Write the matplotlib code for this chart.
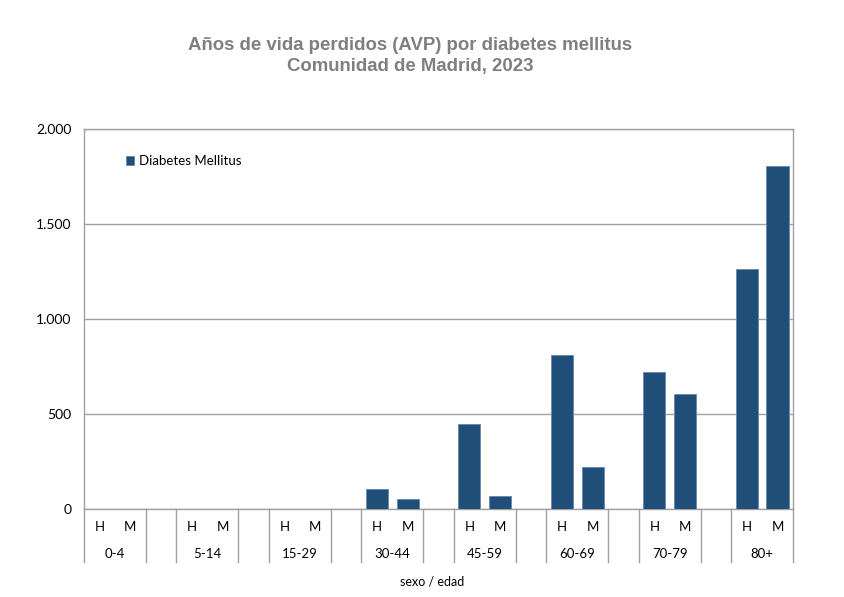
import numpy as np
import matplotlib.pyplot as plt
import matplotlib.transforms as mtransforms

grupos = ['0-4', '5-14', '15-29', '30-44', '45-59', '60-69', '70-79', '80+']
sexos = ['H', 'M']
hombres = [0, 0, 0, 104, 447, 809, 723, 1263]
mujeres = [0, 0, 0, 52, 70, 223, 603, 1807]
yticks = [0, 500, 1000, 1500, 2000]
ytick_labels = ['0', '500', '1.000', '1.500', '2.000']

bar_color = '#1f4e79'
grid_color = '#a0a0a0'
tick_font = 'Lato'

fig = plt.figure(figsize=(8.45, 5.97), dpi=100)
ax = fig.add_axes([84 / 845, 1 - 509 / 597, (793 - 84) / 845, (509 - 129) / 597])

# each group takes three slots: H, M and an empty gap (none after the last)
n_slots = len(grupos) * 3 - 1
x_h = np.arange(len(grupos)) * 3
x_m = x_h + 1
ax.bar(x_h, hombres, width=0.72, color=bar_color, edgecolor='#6b8cb3',
       linewidth=0.7, label='Diabetes Mellitus', zorder=3)
ax.bar(x_m, mujeres, width=0.72, color=bar_color, edgecolor='#6b8cb3',
       linewidth=0.7, zorder=3)

ax.set_xlim(-0.5, n_slots - 0.5)
ax.set_ylim(0, 2000)
ax.set_yticks(yticks)
ax.set_yticklabels(ytick_labels, fontfamily=tick_font, fontsize=10)
ax.tick_params(axis='y', length=0, pad=9)
ax.set_xticks([])
ax.grid(axis='y', color=grid_color, linewidth=1, zorder=0)
for side in ['left', 'right', 'top', 'bottom']:
    ax.spines[side].set_color(grid_color)
    ax.spines[side].set_linewidth(1)

# category axis: H/M labels, age groups, separators
trans = mtransforms.blended_transform_factory(ax.transData, ax.transAxes)
seps = sorted(set([-0.5, n_slots - 0.5] + list(x_h - 0.5) + list(x_m + 0.5)))
for s in seps:
    ax.plot([s, s], [0, -0.139], transform=trans, color=grid_color,
            linewidth=1, clip_on=False)
for g, xh in enumerate(x_h):
    ax.text(xh, -0.047, sexos[0], transform=trans, ha='center', va='center',
            fontfamily=tick_font, fontsize=9.5)
    ax.text(xh + 1, -0.047, sexos[1], transform=trans, ha='center', va='center',
            fontfamily=tick_font, fontsize=9.5)
    ax.text(xh + 0.5, -0.118, grupos[g], transform=trans, ha='center', va='center',
            fontfamily=tick_font, fontsize=9.5)

fig.text(432 / 845, 1 - 582 / 597, 'sexo / edad', ha='center', va='center',
         fontfamily=tick_font, fontsize=9)

ax.legend(loc='upper left', bbox_to_anchor=(0.042, 0.962), frameon=False,
          handlelength=0.6, handleheight=0.6, handletextpad=0.4,
          prop={'family': tick_font, 'size': 9.5})

fig.text(410 / 845, 1 - 56 / 597,
         'Años de vida perdidos (AVP) por diabetes mellitus\nComunidad de Madrid, 2023',
         ha='center', va='center', multialignment='center', linespacing=1.3,
         fontfamily='Liberation Sans', fontweight='bold', fontsize=13.4,
         color='#7f7f7f')

fig.savefig('out.png', dpi=100)
